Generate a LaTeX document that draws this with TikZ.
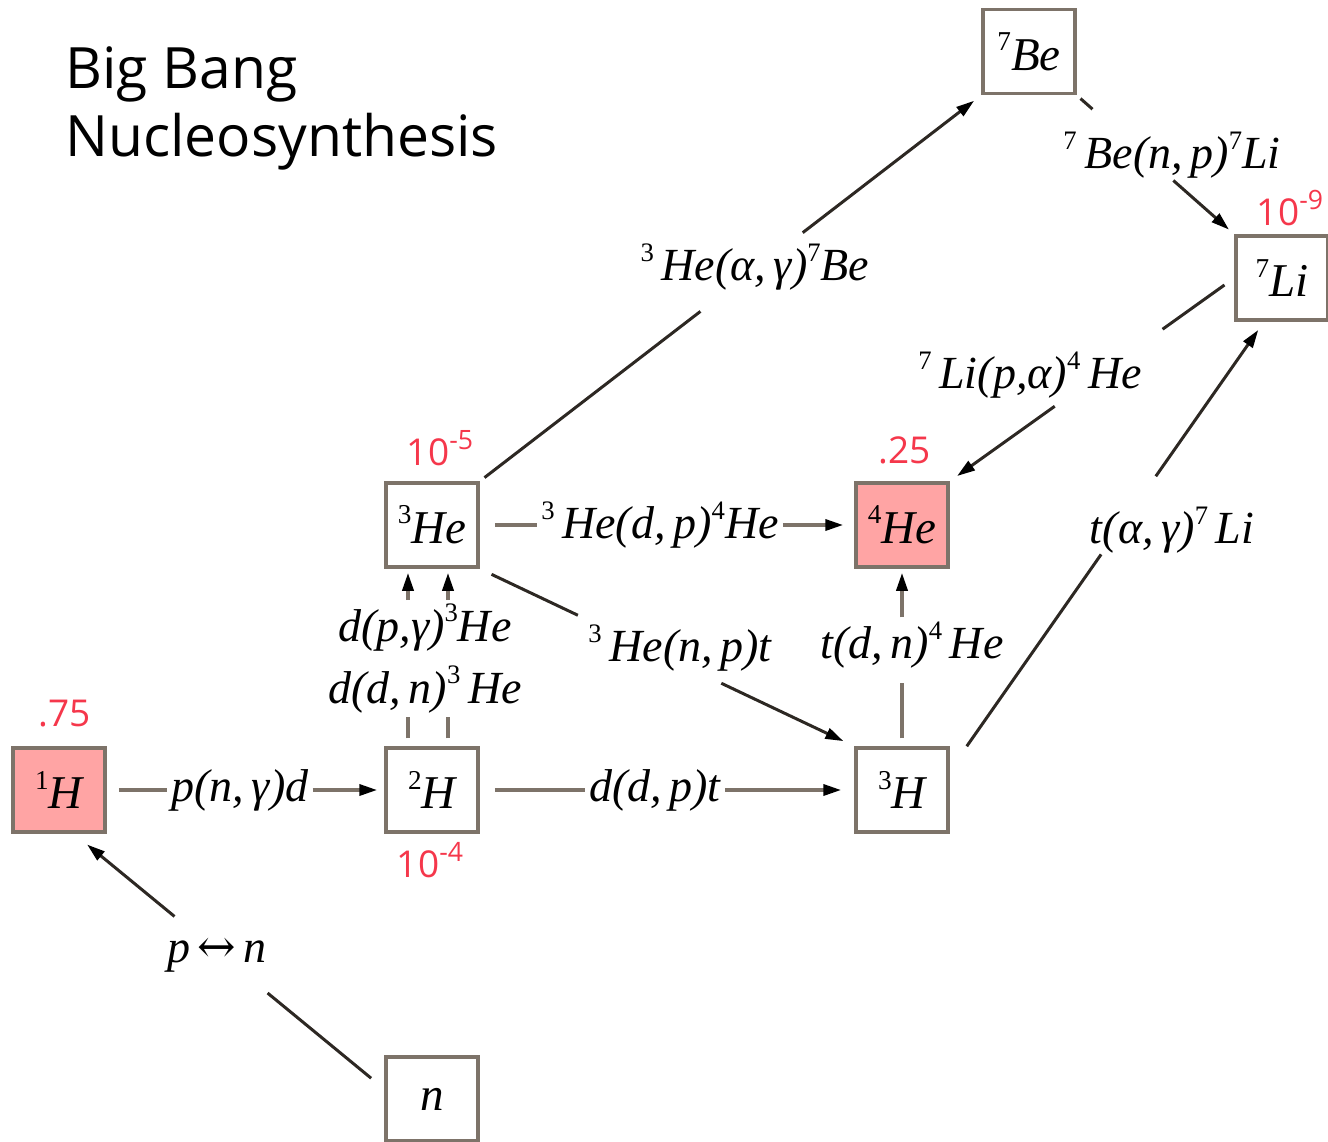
\documentclass[tikz,border=0pt]{standalone}
\usepackage{fontspec}
\setmainfont{Liberation Serif}
\newfontfamily\sansfont{Open Sans}
\newfontfamily\symfont{DejaVu Serif}
\usetikzlibrary{arrows.meta}
\definecolor{boxline}{RGB}{125,115,105}
\definecolor{pinkfill}{RGB}{255,164,164}
\definecolor{abund}{RGB}{245,55,75}
\definecolor{darkwire}{RGB}{45,40,35}
\newcommand{\isup}[1]{\raisebox{.42em}{\scalebox{.58}{\upshape #1}}}
\newcommand{\asup}[1]{\raisebox{.45em}{\scalebox{.72}{#1}}}
\begin{document}
\begin{tikzpicture}[x=1pt,y=-1pt,
  nuc/.style={draw=boxline, line width=3.5pt, minimum width=92pt, minimum height=84pt, inner sep=0pt, font=\fontsize{47}{50}\selectfont\itshape},
  rich/.style={nuc, fill=pinkfill},
  rx/.style={inner sep=4pt, font=\fontsize{46}{50}\selectfont\itshape, text=black},
  abn/.style={text=abund, font=\fontsize{37}{40}\sansfont, inner sep=0pt},
  gwire/.style={draw=boxline, line width=3.5pt},
  dwire/.style={draw=darkwire, line width=3pt},
  arr/.style={-{Triangle[length=18pt,width=11pt,color=black]}}
]
\useasboundingbox (0,0) rectangle (1328,1141);

% title
\node[font=\fontsize{57}{68}\sansfont, anchor=north west, align=left, inner sep=0pt] (title) at (65,46) {Big Bang\\Nucleosynthesis};

% nuclei
\node[rich] (H1) at (59,790) {\isup{1}H};
\node[nuc] (H2) at (432,790) {\isup{2}H};
\node[nuc] (H3) at (902,790) {\isup{3}H};
\node[nuc] (n) at (432,1099) {n};
\node[nuc] (He3) at (432,525) {\isup{3}He};
\node[rich] (He4) at (902,525) {\isup{4}He};
\node[nuc] (Be7) at (1029,51.5) {\isup{7}Be};
\node[nuc] (Li7) at (1282,278) {\isup{7}Li};

% abundances
\node[abn] (a1) at (65,714) {.75};
\node[abn] (a2) at (430,860) {10\asup{-4}};
\node[abn] (a3) at (440,448) {10\asup{-5}};
\node[abn] (a4) at (905,450) {.25};
\node[abn] (a5) at (1290,208) {10\asup{-9}};

% reaction labels
\node[rx] (lpng) at (240,790) {p(n,\,γ)d};
\node[rx] (lddp) at (655,790) {d(d,\,p)t};
\node[rx] (lhedp) at (660,525) {\isup{3}\,He(d,\,p)\isup{4}He};
\node[rx] (lpn) at (217,955) {p\,{\upshape\symfont ↔}\,n};
\node[rx,anchor=south] (lddn) at (425,717) {d(d,\,n)\isup{3}\,He};
\node[rx,anchor=north] (ldpg) at (425,600) {d(p,γ)\isup{3}He};
\node[rx] (lhenp) at (680,648) {\isup{3}\,He(n,\,p)t};
\node[rx] (ltdn) at (912,645) {t(d,\,n)\isup{4}\,He};
\node[rx] (ltag) at (1172,530) {t(α,\,γ)\isup{7}\,Li};
\node[rx] (lheag) at (755,267) {\isup{3}\,He(α,\,γ)\isup{7}Be};
\node[rx] (lbenp) at (1172,155) {\isup{7}\,Be(n,\,p)\isup{7}Li};
\node[rx] (llipa) at (1030,375) {\isup{7}\,Li(p,α)\isup{4}\,He};

% n -> 1H
\path ([yshift=10pt]n.west) -- ([xshift=15pt]H1.south) coordinate[pos=.376] (c1a) coordinate[pos=.676] (c1b);
\draw[dwire, shorten <=17pt] ([yshift=10pt]n.west) -- (c1a);
\draw[dwire, arr, shorten >=17pt] (c1b) -- ([xshift=15pt]H1.south);

% horizontal reactions
\draw[gwire, shorten <=12pt] (H1.east) -- (lpng.west);
\draw[gwire, arr, shorten >=7pt] (lpng.east) -- (H2.west);
\draw[gwire, shorten <=15pt] (H2.east) -- (lddp.west);
\draw[gwire, arr, shorten >=13pt] (lddp.east) -- (H3.west);
\draw[gwire, shorten <=15pt] (He3.east) -- (lhedp.west);
\draw[gwire, arr, shorten >=11pt] (lhedp.east) -- (He4.west);

% 2H -> 3He (two reactions)
\foreach \dx in {-24,16} {
  \draw[gwire, shorten <=8pt] ([xshift=\dx pt]H2.north) -- ([xshift=\dx pt]H2.north |- lddn.south);
  \draw[gwire, arr, shorten >=4pt] ([xshift=\dx pt]He3.south |- ldpg.north) -- ([xshift=\dx pt]He3.south);
}

% 3H -> 4He
\draw[gwire, shorten <=8pt, shorten >=10pt] (H3.north) -- (H3.north |- ltdn.south);
\draw[gwire, arr, shorten >=4pt] (He4.south |- ltdn.north) -- (He4.south);

% 3He -> 3H
\path (He3.south east) -- (H3.north west) coordinate[pos=.262] (c2a) coordinate[pos=.645] (c2b);
\draw[dwire, shorten <=13pt] (He3.south east) -- (c2a);
\draw[dwire, arr, shorten >=12pt] (c2b) -- (H3.north west);

% 3He -> 7Be
\path (He3.north east) -- (Be7.south west) coordinate[pos=.44] (c3a) coordinate[pos=.644] (c3b);
\draw[dwire, shorten <=6pt] (He3.north east) -- (c3a);
\draw[dwire, arr, shorten >=9pt] (c3b) -- (Be7.south west);

% 7Be -> 7Li
\path (Be7.south east) -- (Li7.north west) coordinate[pos=.1] (c4a) coordinate[pos=.613] (c4b);
\draw[dwire, shorten <=5pt] (Be7.south east) -- (c4a);
\draw[dwire, arr, shorten >=7pt] (c4b) -- (Li7.north west);

% 7Li -> 4He
\path (Li7.west) -- (He4.north east) coordinate[pos=.252] (c5a) coordinate[pos=.631] (c5b);
\draw[dwire, shorten <=12pt] (Li7.west) -- (c5a);
\draw[dwire, arr, shorten >=9pt] (c5b) -- (He4.north east);

% 3H -> 7Li
\path ([xshift=17pt]H3.north east) -- ([xshift=-18pt]Li7.south) coordinate[pos=.452] (c6a) coordinate[pos=.636] (c6b);
\draw[dwire] ([xshift=17pt]H3.north east) -- (c6a);
\draw[dwire, arr, shorten >=10pt] (c6b) -- ([xshift=-18pt]Li7.south);
\end{tikzpicture}
\end{document}
